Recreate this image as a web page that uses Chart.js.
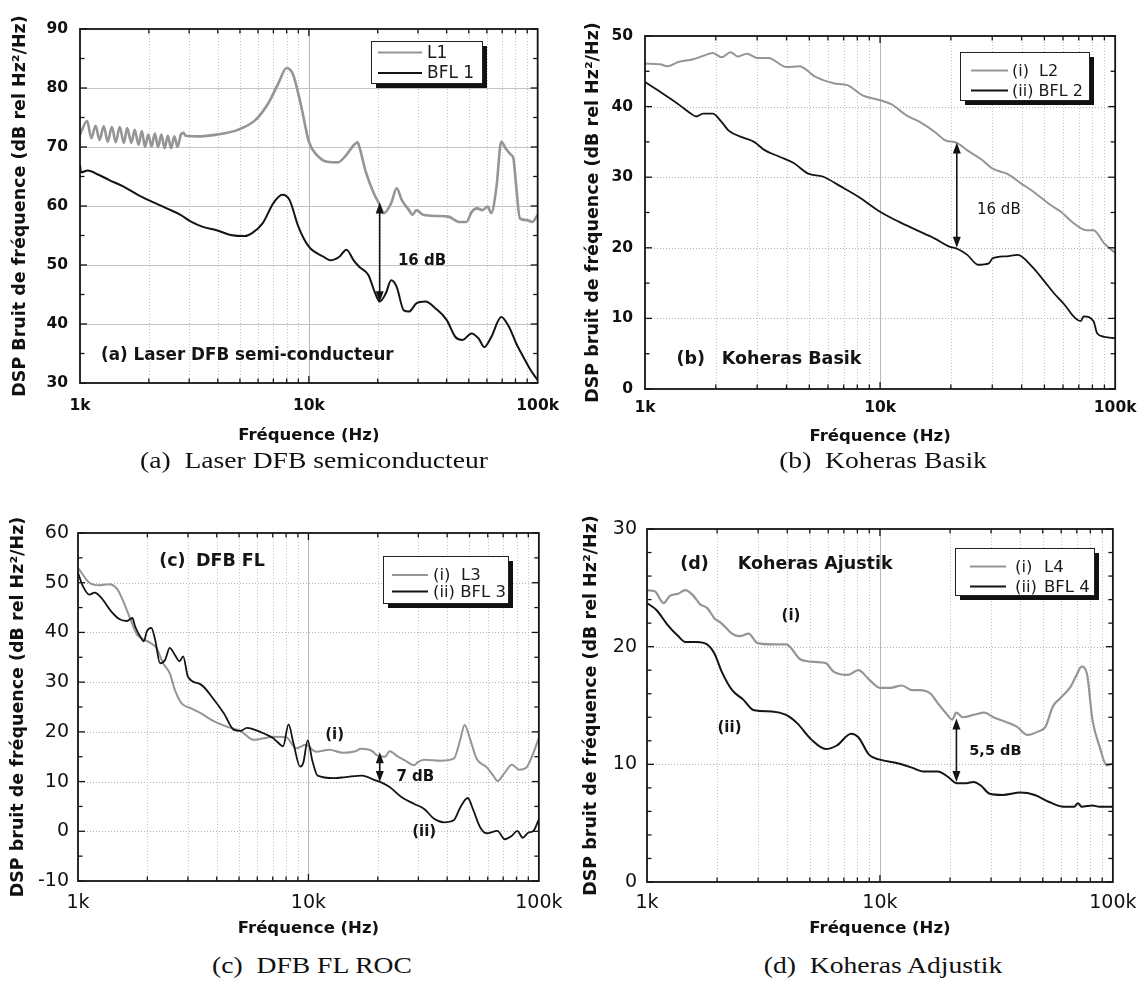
<!DOCTYPE html>
<html>
<head>
<meta charset="utf-8">
<script src="https://cdn.jsdelivr.net/npm/chart.js@4.4.1/dist/chart.umd.min.js"></script>
<style>
  body { margin: 0; background: #fff; width: 1146px; height: 986px; position: relative; overflow: hidden; }
  canvas { position: absolute; }
  .caption { position: absolute; width: 400px; margin-left: -200px; text-align: center; font-family: 'Liberation Serif', 'Times New Roman', serif; font-size: 24px; line-height: 28px; color: #111; white-space: pre; transform: scaleX(1.15); }
</style>
</head>
<body>
<canvas id="chartA" width="573" height="450" style="left:0;top:0"></canvas>
<canvas id="chartB" width="573" height="450" style="left:573px;top:0"></canvas>
<canvas id="chartC" width="573" height="450" style="left:0;top:490px"></canvas>
<canvas id="chartD" width="573" height="450" style="left:573px;top:490px"></canvas>
<div class="caption" style="left:314px;top:446px">(a)  Laser DFB semiconducteur</div>
<div class="caption" style="left:883px;top:446px">(b)  Koheras Basik</div>
<div class="caption" style="left:312px;top:951px">(c)  DFB FL ROC</div>
<div class="caption" style="left:883px;top:951px">(d)  Koheras Adjustik</div>
<script>
// (a) Laser DFB semi-conducteur
const freqL1 = [1000, 1075, 1121, 1170, 1217, 1270, 1321, 1378, 1433, 1491,
  1556, 1607, 1677, 1733, 1803, 1863, 1924, 1988, 2054, 2123,
  2194, 2267, 2342, 2420, 2500, 2584, 2669, 2758, 2831, 2897,
  3250, 3950, 4890, 5850, 6670, 7360, 7990, 8530, 9260, 10000,
  10800, 12000, 13400, 14400, 15700, 16300, 16600, 17800, 19200, 20400,
  21300, 22900, 24200, 25500, 27400, 28400, 29500, 31600, 36600, 40700,
  45400, 48800, 51500, 54300, 57300, 60500, 62700, 66100, 69300, 72400,
  76400, 78300, 80600, 83600, 89800, 94800, 100000];
const dspL1 = [72.1, 74.4, 71.5, 73.6, 71.2, 73.5, 70.9, 73.4, 70.8, 73.4,
  70.7, 73.2, 70.7, 72.9, 70.4, 72.7, 70.0, 72.1, 70.1, 72.3,
  70.0, 72.1, 69.8, 71.9, 69.8, 71.8, 70.0, 72.1, 72.4, 71.9,
  71.8, 72.1, 72.9, 74.6, 77.5, 80.8, 83.4, 82.3, 76.9, 70.9,
  68.7, 67.5, 67.4, 68.4, 70.3, 70.8, 70.1, 65.6, 62.2, 60.2,
  58.8, 60.5, 63.0, 61.0, 59.3, 58.5, 59.3, 58.5, 58.3, 58.2,
  57.3, 57.3, 59.0, 59.6, 59.3, 59.9, 58.8, 63.3, 70.9, 69.8,
  68.7, 68.1, 63.3, 57.9, 57.6, 57.3, 58.5];
const freqBFL1 = [1000, 1010, 1080, 1205, 1342, 1550, 1790, 2070, 2390, 2750,
  3070, 3420, 3950, 4550, 5260, 5650, 6290, 7000, 7660, 8240,
  9000, 10000, 11600, 12400, 13600, 14600, 15700, 16600, 18200, 19500,
  20400, 21700, 22900, 24200, 26000, 27400, 29500, 32300, 35900, 40000,
  43700, 47000, 51400, 55300, 58400, 62700, 69300, 75000, 80600, 86600,
  93100, 100000];
const dspBFL1 = [67.0, 65.7, 66.0, 65.3, 64.4, 63.3, 61.9, 60.7, 59.6, 58.5,
  57.3, 56.5, 55.9, 55.1, 54.9, 55.4, 57.1, 60.5, 61.9, 61.0,
  56.5, 53.1, 51.4, 50.8, 51.4, 52.6, 50.8, 49.7, 48.3, 45.2,
  43.8, 45.2, 47.4, 46.3, 42.3, 42.1, 43.5, 43.8, 42.6, 40.7,
  37.8, 37.3, 38.4, 37.5, 36.1, 37.8, 41.2, 39.5, 36.7, 34.4,
  32.2, 30.5];

// (b) Koheras Basik
const freqL2 = [1000, 1160, 1245, 1380, 1600, 1840, 1940, 2120, 2310, 2480,
  2710, 3010, 3350, 4000, 4530, 5310, 6340, 7300, 8410, 10000,
  11200, 12900, 14800, 17100, 19000, 21100, 23500, 27000, 30100, 34600,
  39900, 45900, 52900, 58800, 65400, 75400, 80900, 89900, 100000];
const dspL2 = [46.1, 46.0, 45.7, 46.3, 46.7, 47.4, 47.6, 47.0, 47.7, 47.1,
  47.5, 46.9, 46.9, 45.6, 45.7, 44.2, 43.3, 43.0, 41.6, 40.9,
  40.3, 38.8, 37.8, 36.4, 35.2, 34.9, 33.8, 32.5, 31.2, 30.5,
  29.1, 27.7, 26.1, 25.1, 23.7, 22.5, 22.5, 20.6, 19.3];
const freqBFL2 = [1000, 1160, 1340, 1430, 1570, 1650, 1770, 1940, 2120, 2270,
  2620, 2910, 3240, 3730, 4290, 4950, 5700, 6800, 8120, 10000,
  12000, 14300, 17100, 19600, 21500, 23500, 26100, 29000, 30100, 34600,
  38500, 44400, 49300, 54800, 61000, 67800, 71500, 73300, 80900, 83800,
  89900, 100000];
const dspBFL2 = [43.5, 42.1, 40.7, 40.0, 39.0, 38.6, 39.0, 39.0, 37.8, 36.6,
  35.6, 35.0, 33.8, 32.9, 32.0, 30.5, 30.1, 28.7, 27.2, 25.1,
  23.7, 22.5, 21.3, 20.2, 19.8, 19.0, 17.6, 17.8, 18.5, 18.8,
  19.0, 17.3, 15.5, 13.6, 11.9, 10.0, 9.6, 10.3, 9.6, 7.9,
  7.4, 7.2];

// (c) DFB FL
const freqL3 = [1000, 1121, 1236, 1364, 1480, 1580, 1690, 1800, 1930, 2060,
  2190, 2340, 2500, 2630, 2810, 3100, 3420, 3900, 4450, 5070,
  5780, 6380, 7040, 8000, 8850, 9700, 10800, 12300, 14100, 16000,
  16900, 18800, 19800, 21500, 22500, 24500, 26100, 28800, 29800, 31800,
  37500, 42700, 45600, 47600, 50400, 53700, 59300, 63400, 66100, 71100,
  76400, 82100, 88200, 94800, 100000];
const dspL3 = [53.0, 50.0, 49.5, 49.7, 48.7, 46.0, 42.6, 39.6, 38.6, 37.9,
  36.9, 33.8, 31.8, 28.5, 25.8, 24.7, 23.7, 22.1, 21.0, 20.2,
  18.4, 18.7, 19.0, 18.9, 16.7, 17.4, 16.0, 16.4, 15.8, 16.1,
  16.6, 16.2, 15.3, 15.0, 16.1, 15.0, 14.3, 13.3, 13.9, 14.4,
  14.2, 14.6, 18.4, 21.4, 18.4, 14.6, 12.9, 11.2, 10.1, 11.8,
  13.4, 12.4, 12.8, 15.8, 18.8];
const freqBFL3 = [1000, 1050, 1121, 1180, 1260, 1390, 1510, 1630, 1720, 1770,
  1860, 1930, 1990, 2080, 2160, 2270, 2390, 2500, 2630, 2760,
  2860, 3000, 3420, 3900, 4300, 4750, 5070, 5410, 6170, 7040,
  7280, 7760, 8200, 8600, 9200, 9500, 9930, 10400, 10960, 12900,
  14500, 17100, 19400, 20800, 22500, 25300, 28800, 31800, 35100, 38700,
  42700, 45600, 49100, 52000, 55600, 59300, 66100, 71100, 76400, 80600,
  85100, 89800, 94800, 100000];
const dspBFL3 = [52.0, 49.3, 47.6, 48.0, 47.0, 44.3, 42.7, 42.3, 42.9, 41.2,
  39.2, 38.2, 40.2, 40.9, 38.6, 33.8, 34.5, 36.9, 35.5, 34.2,
  35.2, 31.1, 29.5, 26.4, 23.7, 20.4, 20.2, 20.8, 20.0, 18.7,
  18.1, 17.1, 21.5, 17.8, 13.0, 13.8, 18.3, 14.2, 11.2, 10.7,
  10.9, 11.2, 10.3, 9.8, 8.9, 6.9, 5.5, 4.5, 2.5, 1.8,
  2.2, 4.8, 6.7, 4.2, 0.8, -0.4, 0.1, -1.6, -0.9, 0.1,
  -1.3, -0.3, 0.1, 2.4];

// (d) Koheras Ajustik
const freqL4 = [1000, 1080, 1180, 1250, 1360, 1460, 1570, 1690, 1810, 1950,
  2050, 2160, 2320, 2500, 2730, 2980, 3440, 3960, 4570, 5270,
  5860, 6300, 7260, 8080, 8990, 10000, 11100, 12400, 13800, 14800,
  16500, 17700, 19300, 20400, 21300, 22700, 25200, 28100, 30700, 34800,
  38700, 43000, 47900, 51400, 55200, 59300, 65900, 69500, 73400, 77400,
  81700, 87700, 94200, 100000];
const dspL4 = [24.8, 24.7, 23.7, 24.3, 24.5, 24.8, 24.4, 23.6, 23.3, 22.4,
  22.1, 21.7, 21.1, 20.9, 21.1, 20.3, 20.2, 20.2, 18.9, 18.7,
  18.6, 17.9, 17.6, 18.0, 17.2, 16.5, 16.5, 16.7, 16.3, 16.3,
  16.0, 15.2, 14.3, 13.8, 14.4, 14.0, 14.2, 14.4, 14.0, 13.6,
  13.2, 12.5, 12.8, 13.2, 14.9, 15.6, 16.6, 17.5, 18.3, 17.7,
  13.8, 11.5, 9.9, 10.1];
const freqBFL4 = [1000, 1100, 1220, 1360, 1460, 1630, 1810, 1950, 2090, 2320,
  2590, 2880, 3440, 3960, 4410, 5080, 5860, 6530, 7520, 8080,
  8990, 10000, 11900, 13800, 15300, 17700, 19700, 21300, 23500, 25200,
  27100, 29600, 33600, 40100, 46200, 53300, 61400, 68300, 70800, 73400,
  81700, 87700, 100000];
const dspBFL4 = [23.7, 23.1, 21.9, 20.9, 20.4, 20.4, 20.2, 19.4, 17.9, 16.3,
  15.5, 14.6, 14.5, 14.2, 13.5, 12.1, 11.3, 11.6, 12.6, 12.3,
  10.8, 10.4, 10.1, 9.7, 9.4, 9.4, 8.9, 8.4, 8.4, 8.5,
  8.2, 7.5, 7.4, 7.6, 7.4, 6.8, 6.4, 6.4, 6.7, 6.4,
  6.5, 6.4, 6.4];

// x tick labels and grid positions
const xTickValues = [1000, 10000, 100000];
const xMinorValues = [2000, 3000, 4000, 5000, 6000, 7000, 8000, 9000,
  20000, 30000, 40000, 50000, 60000, 70000, 80000, 90000];

const SANS = "'DejaVu Sans', Verdana, sans-serif";
const GREY = '#959595';
const INK = '#141414';

const toPoints = (freq, dsp) => freq.map((f, i) => ({ x: f, y: dsp[i] }));

const drawArrowHead = (ctx, x, y, dir) => {
  ctx.beginPath();
  ctx.moveTo(x, y);
  ctx.lineTo(x - 4, y + dir * 11);
  ctx.lineTo(x + 4, y + dir * 11);
  ctx.closePath();
  ctx.fill();
};

const decor = {
  id: 'decor',
  beforeDatasetsDraw(chart, args, opts) {
    const { ctx, chartArea: a, scales: { x, y } } = chart;
    ctx.save();
    ctx.lineWidth = 1;
    [...xMinorValues, 10000].forEach((v) => {
      const px = Math.round(x.getPixelForValue(v)) + 0.5;
      ctx.strokeStyle = v === 10000 ? '#b8b8b8' : '#c6c6c6';
      ctx.setLineDash(v === 10000 ? [] : [1, 2]);
      ctx.beginPath();
      ctx.moveTo(px, a.top);
      ctx.lineTo(px, a.bottom);
      ctx.stroke();
    });
    ctx.strokeStyle = opts.hSolid ? '#c4c4c4' : '#b4b4b4';
    ctx.setLineDash(opts.hSolid ? [] : [1, 2]);
    for (let v = y.min + opts.step; v < y.max; v += opts.step) {
      const py = Math.round(y.getPixelForValue(v)) + 0.5;
      ctx.beginPath();
      ctx.moveTo(a.left, py);
      ctx.lineTo(a.right, py);
      ctx.stroke();
    }
    ctx.restore();
  },
  afterDatasetsDraw(chart, args, opts) {
    const { ctx, chartArea: a, scales: { x, y } } = chart;
    ctx.save();
    ctx.strokeStyle = INK;
    ctx.fillStyle = INK;

    // inward ticks on the four sides
    ctx.lineWidth = 1.3;
    const tick = (x1, y1, x2, y2) => {
      ctx.beginPath();
      ctx.moveTo(x1, y1);
      ctx.lineTo(x2, y2);
      ctx.stroke();
    };
    [...xMinorValues, 10000].forEach((v) => {
      const px = x.getPixelForValue(v);
      const len = v === 10000 ? 7 : 4.5;
      tick(px, a.bottom, px, a.bottom - len);
      tick(px, a.top, px, a.top + len);
    });
    for (let v = y.min; v <= y.max + 1e-6; v += opts.minor) {
      const py = y.getPixelForValue(v);
      const isMajor = Math.abs(v / opts.step - Math.round(v / opts.step)) < 1e-6;
      const len = isMajor ? 7 : 4.5;
      tick(a.left, py, a.left + len, py);
      tick(a.right, py, a.right - len, py);
    }

    // frame
    ctx.lineWidth = 1.8;
    ctx.strokeRect(a.left, a.top, a.right - a.left, a.bottom - a.top);

    // arrows between the curves
    ctx.lineWidth = 1.6;
    (opts.arrows || []).forEach((ar) => {
      const px = x.getPixelForValue(ar.f);
      const top = y.getPixelForValue(ar.from);
      const bottom = y.getPixelForValue(ar.to);
      tick(px, top + 6, px, bottom - 6);
      drawArrowHead(ctx, px, top, 1);
      drawArrowHead(ctx, px, bottom, -1);
    });

    // labels placed in data coordinates
    ctx.textBaseline = 'middle';
    (opts.notes || []).forEach((n) => {
      ctx.font = n.font;
      ctx.textAlign = n.align || 'left';
      ctx.fillText(n.text, x.getPixelForValue(n.f), y.getPixelForValue(n.v));
    });

    // legend box with its drop shadow
    const lg = opts.legend;
    if (lg) {
      const [x1, y1, x2, y2] = lg.box;
      ctx.fillStyle = '#111';
      ctx.fillRect(x1 + 5, y1 + 5, x2 - x1, y2 - y1);
      ctx.fillStyle = '#fff';
      ctx.fillRect(x1, y1, x2 - x1, y2 - y1);
      ctx.lineWidth = 1;
      ctx.strokeStyle = '#222';
      ctx.strokeRect(x1 + 0.5, y1 + 0.5, x2 - x1, y2 - y1);
      ctx.font = lg.font;
      ctx.textAlign = 'left';
      lg.rows.forEach((r) => {
        ctx.strokeStyle = r.color;
        ctx.lineWidth = 2;
        tick(lg.lineFrom, r.y, lg.lineTo, r.y);
        ctx.fillStyle = '#1a1a1a';
        r.texts.forEach(([t, tx]) => ctx.fillText(t, tx, r.y + 1));
      });
    }
    ctx.restore();
  }
};

const makePanel = (id, p) => {
  const canvas = document.getElementById(id);
  const H = canvas.height;
  return new Chart(canvas, {
    type: 'line',
    data: {
      datasets: [
        { label: p.names[1], data: p.black, borderColor: INK, borderWidth: p.lw },
        { label: p.names[0], data: p.grey, borderColor: GREY, borderWidth: p.greyLw }
      ]
    },
    options: {
      responsive: false,
      animation: false,
      devicePixelRatio: 1,
      elements: { point: { radius: 0 }, line: { cubicInterpolationMode: 'monotone', fill: false } },
      layout: { padding: { left: 0, right: canvas.width - p.area.r, top: p.area.t, bottom: 0 } },
      plugins: {
        legend: { display: false },
        tooltip: { enabled: false },
        decor: p.decor
      },
      scales: {
        x: {
          type: 'logarithmic',
          min: 1000,
          max: 100000,
          afterBuildTicks: (s) => { s.ticks = xTickValues.map((value) => ({ value })); },
          afterFit: (s) => { s.height = H - p.area.b; },
          grid: { display: false, drawTicks: false, tickLength: 0 },
          border: { display: false },
          ticks: {
            autoSkip: false,
            maxRotation: 0,
            padding: p.xPad,
            color: '#111',
            font: { family: SANS, size: p.tickSize, weight: p.tickWeight, lineHeight: 1.2 },
            callback: (v) => `${v / 1000}k`
          },
          title: {
            display: true,
            text: 'Fréquence (Hz)',
            color: '#111',
            font: { family: SANS, size: 16.5, weight: 'bold', lineHeight: 1.2 },
            padding: { top: 0, bottom: p.xTitlePad }
          }
        },
        y: {
          min: p.yMin,
          max: p.yMax,
          afterFit: (s) => { s.width = p.area.l; },
          grid: { display: false, drawTicks: false, tickLength: 0 },
          border: { display: false },
          ticks: {
            stepSize: p.decor.step,
            padding: p.yPad,
            color: '#111',
            font: { family: SANS, size: p.tickSize, weight: p.tickWeight }
          },
          title: {
            display: true,
            text: p.yTitle,
            color: '#111',
            font: { family: SANS, size: 17.5, weight: 'bold', lineHeight: 1.2 },
            padding: { top: p.yTitlePad, bottom: 0 }
          }
        }
      }
    },
    plugins: [decor]
  });
};

const LABEL = `bold 17.5px ${SANS}`;
const DB_BOLD = `bold 15px ${SANS}`;
const ROMAN = `bold 15px ${SANS}`;

makePanel('chartA', {
  area: { l: 80, r: 549, t: 29, b: 383 },
  yMin: 30, yMax: 90, lw: 2, greyLw: 2.6,
  tickSize: 15.5, tickWeight: 'bold', xPad: 14, yPad: 12, xTitlePad: 4, yTitlePad: 9.5,
  yTitle: 'DSP Bruit de fréquence (dB rel Hz²/Hz)',
  names: ['L1', 'BFL 1'],
  grey: toPoints(freqL1, dspL1),
  black: toPoints(freqBFL1, dspBFL1),
  decor: {
    step: 10, minor: 5, hSolid: true,
    arrows: [{ f: 20400, from: 60.6, to: 43.7 }],
    notes: [
      { text: '16 dB', f: 24500, v: 50.6, font: DB_BOLD },
      { text: '(a) Laser DFB semi-conducteur', f: 1236, v: 34.7, font: `bold 16.8px ${SANS}` }
    ],
    legend: {
      box: [371, 41, 482, 83], font: `17px ${SANS}`, lineFrom: 378, lineTo: 422,
      rows: [
        { y: 52.5, color: GREY, texts: [['L1', 427]] },
        { y: 73, color: INK, texts: [['BFL 1', 427]] }
      ]
    }
  }
});

makePanel('chartB', {
  area: { l: 72, r: 548, t: 36, b: 389 },
  yMin: 0, yMax: 50, lw: 1.8, greyLw: 2,
  tickSize: 15.5, tickWeight: 'bold', xPad: 9.5, yPad: 12, xTitlePad: 3, yTitlePad: 9.5,
  yTitle: 'DSP bruit de fréquence (dB rel Hz²/Hz)',
  names: ['(i)  L2', '(ii) BFL 2'],
  grey: toPoints(freqL2, dspL2),
  black: toPoints(freqBFL2, dspBFL2),
  decor: {
    step: 10, minor: 5, hSolid: false,
    arrows: [{ f: 21200, from: 34.9, to: 20.0 }],
    notes: [
      { text: '16 dB', f: 32000, v: 25.4, font: `15px ${SANS}`, align: 'center' },
      { text: '(b)', f: 1360, v: 4.2, font: LABEL },
      { text: 'Koheras Basik', f: 2120, v: 4.2, font: LABEL }
    ],
    legend: {
      box: [387, 52, 516, 100], font: `16px ${SANS}`, lineFrom: 398, lineTo: 435,
      rows: [
        { y: 70.5, color: GREY, texts: [['(i)  L2', 439]] },
        { y: 90.5, color: INK, texts: [['(ii) BFL 2', 439]] }
      ]
    }
  }
});

makePanel('chartC', {
  area: { l: 78, r: 546, t: 43, b: 391 },
  yMin: -10, yMax: 60, lw: 1.8, greyLw: 2,
  tickSize: 19, tickWeight: 'normal', xPad: 10.5, yPad: 9, xTitlePad: 1, yTitlePad: 7.5,
  yTitle: 'DSP bruit de fréquence (dB rel Hz²/Hz)',
  names: ['(i)  L3', '(ii) BFL 3'],
  grey: toPoints(freqL3, dspL3),
  black: toPoints(freqBFL3, dspBFL3),
  decor: {
    step: 10, minor: 5, hSolid: false,
    arrows: [{ f: 20400, from: 15.9, to: 9.9 }],
    notes: [
      { text: '7 dB', f: 24100, v: 10.8, font: DB_BOLD },
      { text: '(i)', f: 13000, v: 19.4, font: ROMAN, align: 'center' },
      { text: '(ii)', f: 31800, v: -0.2, font: ROMAN, align: 'center' },
      { text: '(c)', f: 2250, v: 54.2, font: LABEL },
      { text: 'DFB FL', f: 3250, v: 54.2, font: LABEL }
    ],
    legend: {
      box: [383, 66, 508, 113], font: `16.5px ${SANS}`, lineFrom: 392, lineTo: 428,
      rows: [
        { y: 85, color: GREY, texts: [['(i)  L3', 433]] },
        { y: 101.5, color: INK, texts: [['(ii) BFL 3', 433]] }
      ]
    }
  }
});

makePanel('chartD', {
  area: { l: 74, r: 547, t: 39, b: 392 },
  yMin: 0, yMax: 30, lw: 2, greyLw: 2.2,
  tickSize: 19, tickWeight: 'normal', xPad: 9.5, yPad: 10, xTitlePad: 1, yTitlePad: 7.5,
  yTitle: 'DSP bruit de fréquence (dB rel Hz²/Hz)',
  names: ['(i)  L4', '(ii) BFL 4'],
  grey: toPoints(freqL4, dspL4),
  black: toPoints(freqBFL4, dspBFL4),
  decor: {
    step: 10, minor: 2, hSolid: false,
    arrows: [{ f: 21300, from: 13.9, to: 8.5 }],
    notes: [
      { text: '5,5 dB', f: 31300, v: 11.1, font: `bold 14.5px ${SANS}`, align: 'center' },
      { text: '(i)', f: 4150, v: 22.6, font: ROMAN, align: 'center' },
      { text: '(ii)', f: 2260, v: 13.1, font: ROMAN, align: 'center' },
      { text: '(d)', f: 1390, v: 27.0, font: LABEL },
      { text: 'Koheras Ajustik', f: 2450, v: 27.0, font: LABEL }
    ],
    legend: {
      box: [382, 58, 521, 105], font: `16.5px ${SANS}`, lineFrom: 397, lineTo: 433,
      rows: [
        { y: 76.5, color: GREY, texts: [['(i)', 442], ['L4', 471]] },
        { y: 96.5, color: INK, texts: [['(ii)', 442], ['BFL 4', 471]] }
      ]
    }
  }
});
</script>
</body>
</html>
